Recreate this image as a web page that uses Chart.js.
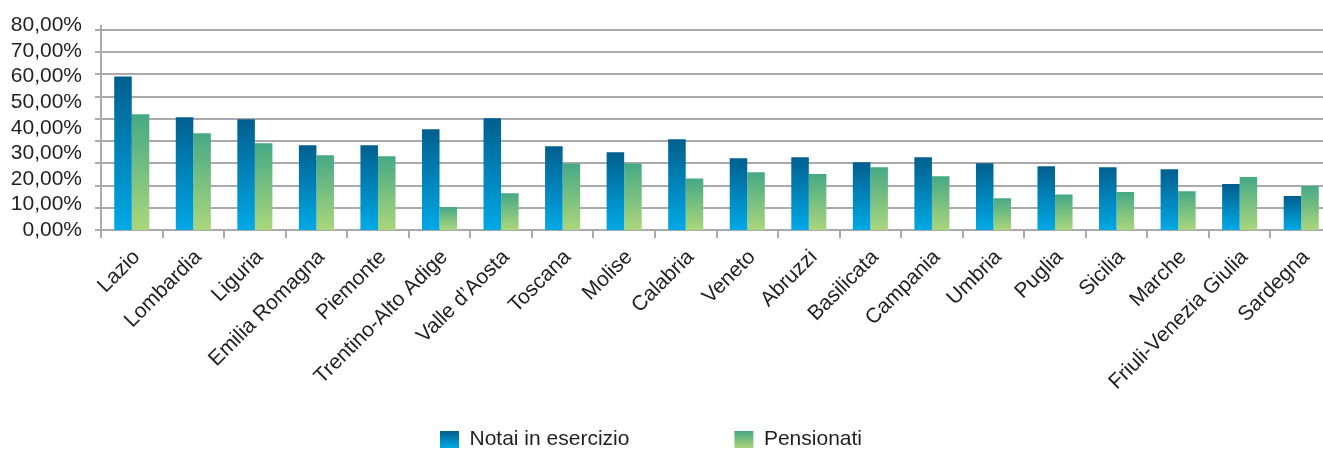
<!DOCTYPE html>
<html>
<head>
<meta charset="utf-8">
<script src="https://cdn.jsdelivr.net/npm/chart.js@4"></script>
<style>
  html, body { margin: 0; padding: 0; background: #fff; overflow: hidden; }
  #wrap { width: 1332px; height: 460px; }
</style>
</head>
<body>
<div id="wrap"><canvas id="chart" width="1332" height="460"></canvas></div>
<script>
// values (percent)
const regions = ['Lazio', 'Lombardia', 'Liguria', 'Emilia Romagna', 'Piemonte', 'Trentino-Alto Adige',
  'Valle d\u2019Aosta', 'Toscana', 'Molise', 'Calabria', 'Veneto', 'Abruzzi', 'Basilicata', 'Campania',
  'Umbria', 'Puglia', 'Sicilia', 'Marche', 'Friuli-Venezia Giulia', 'Sardegna'];
const notai = [60.1, 44.1, 43.3, 33.2, 33.2, 39.4, 43.7, 32.8, 30.4, 35.5, 28.1, 28.5, 26.5, 28.5, 26.1, 25.0, 24.6, 23.8, 18.0, 13.3];
const pensionati = [45.3, 37.9, 34.0, 29.3, 28.9, 9.0, 14.4, 26.0, 26.0, 20.2, 22.6, 21.9, 24.6, 21.0, 12.4, 13.9, 14.9, 15.2, 20.7, 17.2];
const seriesNames = ['Notai in esercizio', 'Pensionati'];
const yMax = 80;
const yStep = 10;
// the background grid of the original does not line up with the labels: 9 bands
const gridBands = [0, 1, 2, 3, 4, 5, 6, 7, 8, 9];

const textColor = '#231f20';
const gridColor = '#aaaaad';
const blue = ['#005f8e', '#00a9e6'];
const green = ['#45a985', '#abd67c'];
const legendPad = 105;

Chart.defaults.font.family = '"Liberation Sans", Arial, sans-serif';
Chart.defaults.font.size = 21;
Chart.defaults.color = textColor;

// gradient from the top of each bar down to the baseline
function barGradient(cols) {
  return (c) => {
    const { ctx, chartArea, scales } = c.chart;
    if (!chartArea || c.type !== 'data') return cols[1];
    const top = scales.y.getPixelForValue(c.raw);
    const base = scales.y.getPixelForValue(0);
    const g = ctx.createLinearGradient(0, top, 0, base);
    g.addColorStop(0, cols[0]);
    g.addColorStop(1, cols[1]);
    return g;
  };
}

function boxGradient(chart, cols) {
  const lg = chart.legend;
  const top = lg && lg.top ? lg.top + legendPad + 2 : chart.height - 30;
  const g = chart.ctx.createLinearGradient(0, top, 0, top + 17);
  g.addColorStop(0, cols[0]);
  g.addColorStop(1, cols[1]);
  return g;
}

// legend sits a bit left of the canvas centre; rotated labels hang into the legend's empty padding
const layoutTweaks = {
  id: 'layoutTweaks',
  afterLayout(chart) {
    chart.legend.left -= 15;
    chart.legend.right -= 15;
    chart.scales.x.bottom = chart.height;
  }
};

new Chart(document.getElementById('chart'), {
  type: 'bar',
  data: {
    labels: regions,
    datasets: [{
      label: seriesNames[0],
      data: notai,
      backgroundColor: barGradient(blue),
      yAxisID: 'y'
    }, {
      label: seriesNames[1],
      data: pensionati,
      backgroundColor: barGradient(green),
      yAxisID: 'y'
    }]
  },
  options: {
    responsive: false,
    animation: false,
    categoryPercentage: 0.57,
    barPercentage: 1,
    layout: { padding: { top: 25, left: 0, right: 0, bottom: 0 } },
    plugins: {
      tooltip: { enabled: false },
      legend: {
        position: 'bottom',
        labels: {
          boxWidth: 19,
          boxHeight: 17,
          padding: legendPad,
          color: textColor,
          generateLabels: (chart) => [blue, green].map((cols, i) => ({
            text: seriesNames[i],
            fillStyle: boxGradient(chart, cols),
            strokeStyle: 'rgba(0,0,0,0)',
            lineWidth: 0,
            fontColor: textColor,
            datasetIndex: i,
            hidden: false
          }))
        }
      }
    },
    scales: {
      x: {
        grid: { offset: true, drawOnChartArea: false, color: gridColor, lineWidth: 2, tickLength: 8 },
        border: { display: true, color: gridColor, width: 2 },
        ticks: { autoSkip: false, minRotation: 45, maxRotation: 45, padding: 7, labelOffset: 5, color: textColor },
        afterFit: (s) => { s.height = 94; }
      },
      y: {
        position: 'left',
        weight: 1,
        min: 0,
        max: yMax,
        grid: { display: false, drawTicks: false },
        border: { display: false },
        ticks: {
          stepSize: yStep,
          autoSkip: false,
          padding: 13,
          color: textColor,
          callback: (v) => v.toFixed(2).replace('.', ',') + '%'
        },
        afterFit: (s) => { s.width = 95; }
      },
      y2: {
        position: 'left',
        weight: 0,
        min: 0,
        max: 9.19,
        grid: { color: gridColor, lineWidth: 2, tickLength: 6 },
        border: { display: true, color: gridColor, width: 2 },
        ticks: { display: false },
        afterBuildTicks: (s) => { s.ticks = gridBands.map(v => ({ value: v })); },
        afterFit: (s) => { s.width = 6; }
      }
    }
  },
  plugins: [layoutTweaks]
});
</script>
</body>
</html>
